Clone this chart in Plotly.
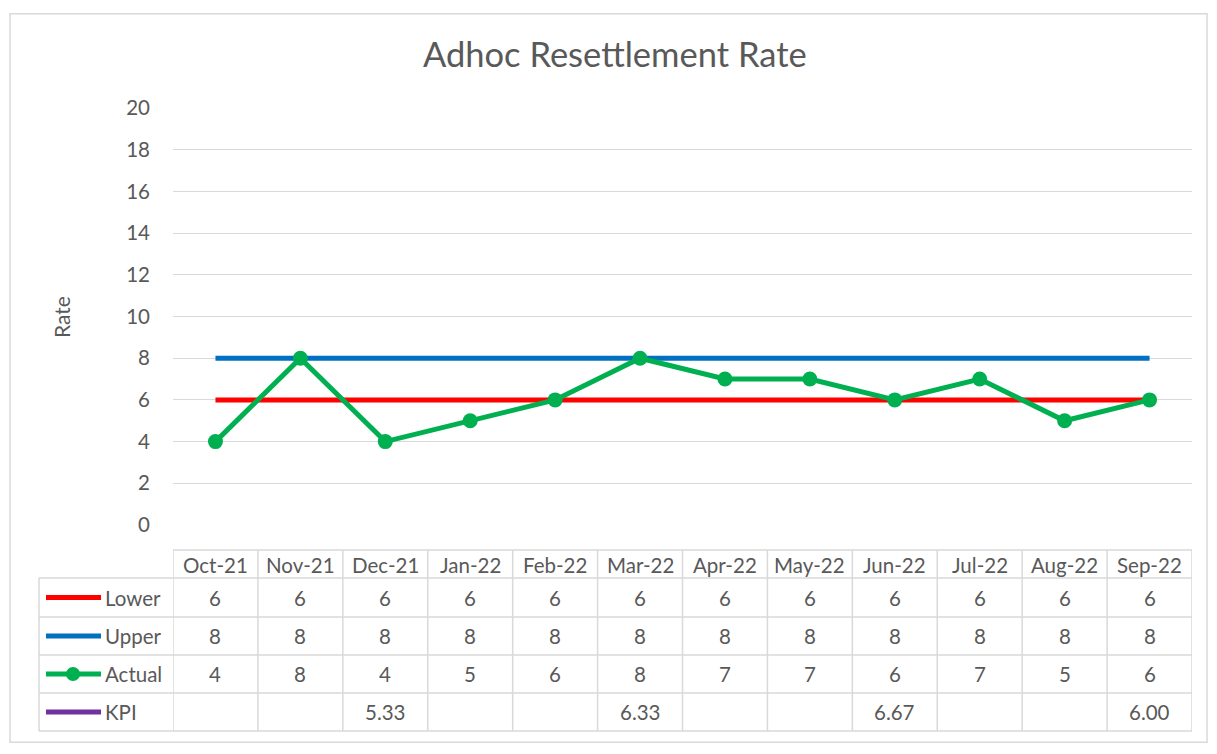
import plotly.graph_objects as go

categories = ["Oct-21", "Nov-21", "Dec-21", "Jan-22", "Feb-22", "Mar-22",
              "Apr-22", "May-22", "Jun-22", "Jul-22", "Aug-22", "Sep-22"]
lower = [6, 6, 6, 6, 6, 6, 6, 6, 6, 6, 6, 6]
upper = [8, 8, 8, 8, 8, 8, 8, 8, 8, 8, 8, 8]
actual = [4, 8, 4, 5, 6, 8, 7, 7, 6, 7, 5, 6]
kpi = [None, None, 5.33, None, None, 6.33, None, None, 6.67, None, None, 6.00]
y_ticks = [0, 2, 4, 6, 8, 10, 12, 14, 16, 18, 20]

W = 1217
H_EFF, Y_OFF = 730, 12   # visible drawing height / offset observed in the viewer
FONT = "Lato, 'Open Sans', sans-serif"
GREY = "#595959"
GRID = "#d9d9d9"
TS = 20.5  # table / tick font size
LW = 5

RED, BLUE, GREEN, PURPLE = "#ff0000", "#0070c0", "#00b050", "#7030a0"


def px(x):
    return x / W


def py(y):
    return 1 - (y - Y_OFF) / H_EFF


fig = go.Figure()
fig.add_trace(go.Scatter(x=categories, y=lower, mode="lines", name="Lower",
                         line=dict(color=RED, width=LW)))
fig.add_trace(go.Scatter(x=categories, y=upper, mode="lines", name="Upper",
                         line=dict(color=BLUE, width=LW)))
fig.add_trace(go.Scatter(x=categories, y=actual, mode="lines+markers", name="Actual",
                         line=dict(color=GREEN, width=LW),
                         marker=dict(color=GREEN, size=15)))
fig.add_trace(go.Scatter(x=categories, y=kpi, mode="lines", name="KPI",
                         connectgaps=False, line=dict(color=PURPLE, width=LW)))

shapes = []
annotations = []

# chart outer border
shapes.append(dict(type="rect", xref="paper", yref="paper",
                   x0=px(10), x1=px(1207), y0=min(py(9), 0.999), y1=max(py(745), 0.001),
                   line=dict(color=GRID, width=1.5)))

# table geometry (pixels)
header_top, header_bot = 549, 577
row_edges = [577, 616, 654, 692, 730]
table_left = 39
n = len(categories)

# horizontal lines
shapes.append(dict(type="line", xref="x", yref="paper", x0=-0.5, x1=n - 0.5,
                   y0=py(header_top), y1=py(header_top), line=dict(color=GRID, width=1.5)))
for ye in row_edges:
    shapes.append(dict(type="line", xref="paper", yref="paper", x0=px(table_left), x1=px(1192),
                       y0=py(ye), y1=py(ye), line=dict(color=GRID, width=1.5)))
# vertical lines
shapes.append(dict(type="line", xref="paper", yref="paper", x0=px(table_left), x1=px(table_left),
                   y0=py(row_edges[0]), y1=py(row_edges[-1]), line=dict(color=GRID, width=1.5)))
for i in range(n + 1):
    shapes.append(dict(type="line", xref="x", yref="paper", x0=i - 0.5, x1=i - 0.5,
                       y0=py(header_top), y1=py(row_edges[-1]), line=dict(color=GRID, width=1.5)))


def txt(x, y, text, xref="paper", size=TS, xanchor="center", angle=0):
    return dict(x=x, y=y, xref=xref, yref="paper", text=text, showarrow=False,
                xanchor=xanchor, yanchor="middle", textangle=angle,
                font=dict(size=size, color=GREY, family=FONT))


# header labels
for i, c in enumerate(categories):
    annotations.append(txt(i, py((header_top + header_bot) / 2 + 1), c, xref="x"))

series = [("Lower", lower, RED, False, lambda v: f"{v:g}"),
          ("Upper", upper, BLUE, False, lambda v: f"{v:g}"),
          ("Actual", actual, GREEN, True, lambda v: f"{v:g}"),
          ("KPI", kpi, PURPLE, False, lambda v: f"{v:.2f}")]
for r, (name, vals, col, mk, fmt) in enumerate(series):
    yc = (row_edges[r] + row_edges[r + 1]) / 2
    shapes.append(dict(type="line", xref="paper", yref="paper", x0=px(46), x1=px(101),
                       y0=py(yc), y1=py(yc), line=dict(color=col, width=LW)))
    if mk:
        shapes.append(dict(type="circle", xref="paper", yref="paper",
                           x0=px(73 - 7), x1=px(73 + 7), y0=py(yc + 7), y1=py(yc - 7),
                           fillcolor=col, line=dict(color=col, width=0)))
    annotations.append(txt(px(103), py(yc), name, xanchor="left"))
    for i, v in enumerate(vals):
        if v is None:
            continue
        annotations.append(txt(i, py(yc), fmt(v), xref="x"))

# title and y-axis title
annotations.append(txt(px(615), py(52), "Adhoc Resettlement Rate", size=34.5))
annotations.append(txt(px(61), py(316), "Rate", size=21, angle=-90))

fig.update_layout(
    autosize=True,
    margin=dict(l=0, r=0, t=0, b=0),
    paper_bgcolor="white", plot_bgcolor="white",
    showlegend=False,
    shapes=shapes, annotations=annotations,
    xaxis=dict(domain=[px(173), px(1192)], range=[-0.5, n - 0.5], type="category",
               categoryorder="array", categoryarray=categories,
               showticklabels=False, showgrid=False, zeroline=False, showline=False, ticks=""),
    yaxis=dict(domain=[py(524), py(107)], range=[0, 20], tickvals=y_ticks,
               showgrid=True, gridcolor=GRID, gridwidth=1.3, zeroline=False, showline=False,
               tickfont=dict(size=TS, color=GREY, family=FONT), ticklabelstandoff=22),
    font=dict(family=FONT, color=GREY),
)

post = (
    "document.documentElement.style.height='100%';"
    "document.documentElement.style.overflow='hidden';"
    "document.body.style.margin='0';"
    "document.body.style.height='100%';"
    "var gd=document.getElementById('{plot_id}');"
    "gd.style.width='100vw';gd.style.height='100vh';"
    "Plotly.Plots.resize(gd);"
)

fig.write_html("out.html", config={"displayModeBar": False, "responsive": True},
               default_width="100vw", default_height="100vh", post_script=post)
